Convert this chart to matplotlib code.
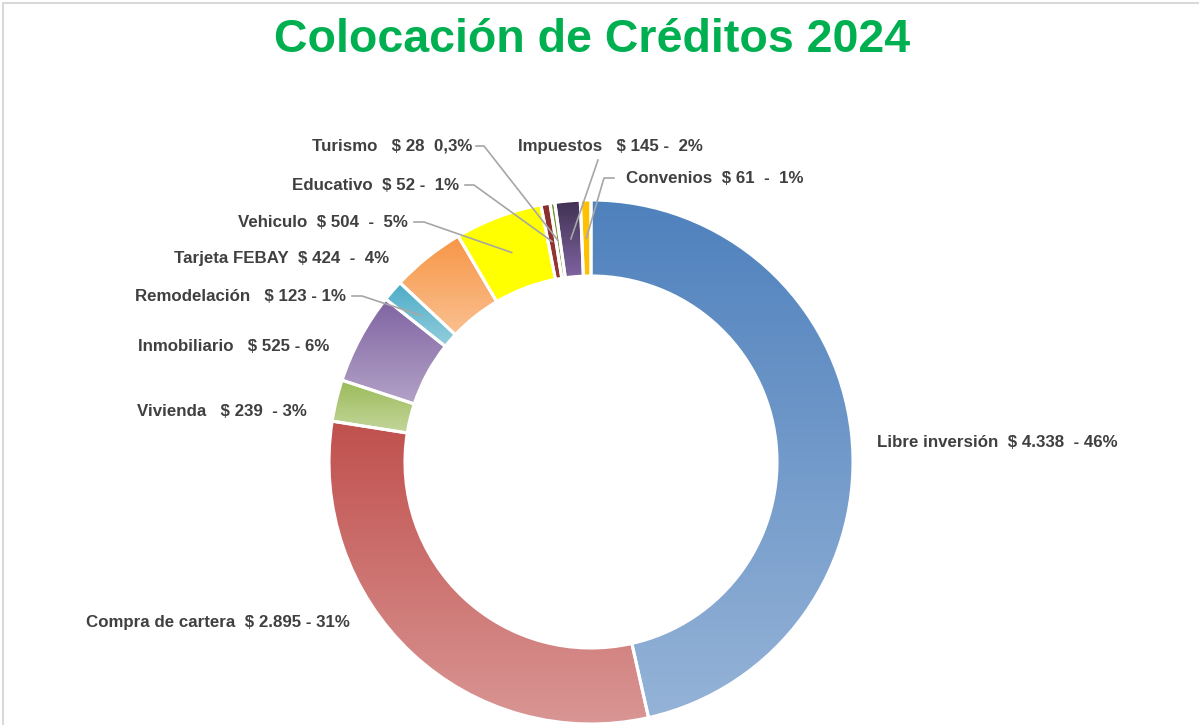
import numpy as np
import matplotlib.pyplot as plt
import matplotlib.colors as mcolors

# datos del gráfico (millones)
categorias = ["Libre inversión", "Compra de cartera", "Vivienda", "Inmobiliario",
              "Remodelación", "Tarjeta FEBAY", "Vehiculo", "Educativo", "Turismo",
              "Impuestos", "Convenios"]
montos = [4338, 2895, 239, 525, 123, 424, 504, 52, 28, 145, 61]
etiquetas = ["Libre inversión  $ 4.338  - 46%",
             "Compra de cartera  $ 2.895 - 31%",
             "Vivienda   $ 239  - 3%",
             "Inmobiliario   $ 525 - 6%",
             "Remodelación   $ 123 - 1%",
             "Tarjeta FEBAY  $ 424  -  4%",
             "Vehiculo  $ 504  -  5%",
             "Educativo  $ 52 -  1%",
             "Turismo   $ 28  0,3%",
             "Impuestos   $ 145 -  2%",
             "Convenios  $ 61  -  1%"]

# degradado: color arriba -> color abajo
color_arriba = ["#4F81BD", "#C0504D", "#9BBB59", "#8064A2", "#4BACC6", "#F79646",
                "#FFFF00", "#8B2F2C", "#77933C", "#403152", "#FFC000"]
color_abajo = ["#95B3D7", "#D99694", "#C3D69B", "#B3A2C7", "#93CDDD", "#FAC090",
               "#FFFF00", "#953735", "#77933C", "#8064A2", "#FFC000"]

# posiciones de las etiquetas en pixeles (x, y, alineación, línea guía)
pos_etiquetas = [
    (877, 442, "left", None),
    (350, 622, "right", None),
    (307, 411, "right", None),
    (329, 346, "right", None),
    (346, 296, "right", [(352, 296), (362, 296)]),
    (389, 258, "right", None),
    (408, 222, "right", [(414, 222), (424, 222)]),
    (459, 185, "right", [(465, 185), (474, 185)]),
    (472, 146, "right", [(476, 146), (484, 146)]),
    (610, 146, "center", [(598, 160)]),
    (626, 178, "left", [(614, 178), (604, 178)]),
]

W, H = 1199, 725
cx, cy, R = 591, H - 462, 262
ancho = 0.29 * R
gris_texto = "#404040"

fig = plt.figure(figsize=(W / 100, H / 100), dpi=100)
ax = fig.add_axes([0, 0, 1, 1])

wedges, _ = ax.pie(montos, radius=R, center=(cx, cy), startangle=90,
                   counterclock=False, colors=color_arriba,
                   wedgeprops=dict(width=ancho, edgecolor="white", linewidth=2.2))

# relleno con degradado vertical recortado a cada porción
for w, c1, c2 in zip(wedges, color_arriba, color_abajo):
    bb = w.get_path().get_extents()
    a = np.array(mcolors.to_rgb(c1))
    b = np.array(mcolors.to_rgb(c2))
    t = np.linspace(0, 1, 256)[:, None]
    img = (a * (1 - t) + b * t)[:, None, :]
    im = ax.imshow(img, extent=(bb.x0, bb.x1, bb.y0, bb.y1), origin="upper",
                   aspect="auto", interpolation="bilinear", zorder=1)
    im.set_clip_path(w)
    w.set_facecolor("none")
    w.set_zorder(2)

# etiquetas y líneas guía
total = sum(montos)
acum = np.cumsum([0] + montos)
for i, (x, y, ha, guia) in enumerate(pos_etiquetas):
    ax.text(x, H - y, etiquetas[i], ha=ha, va="center", fontsize=12.2,
            fontweight="bold", color=gris_texto, family=["Liberation Sans", "DejaVu Sans"])
    if guia:
        frac = (acum[i] + montos[i] / 2) / total
        ang = np.deg2rad(90 - 360 * frac)
        rp = 0.855 * R
        px, py = cx + rp * np.cos(ang), cy + rp * np.sin(ang)
        xs = [p[0] for p in guia] + [px]
        ys = [H - p[1] for p in guia] + [py]
        ax.plot(xs, ys, color="#A6A6A6", lw=1.2, zorder=3)

ax.text(592, H - 40, "Colocación de Créditos 2024", ha="center", va="center",
        fontsize=33.5, fontweight="bold", color="#00B050",
        family=["Liberation Sans", "DejaVu Sans"])

# marco gris del gráfico
ax.plot([3, 3, W], [0, H - 3, H - 3], color="#D9D9D9", lw=1.5, zorder=0)

ax.set_xlim(0, W)
ax.set_ylim(0, H)
ax.set_aspect("auto")
ax.axis("off")

fig.savefig("out.png", dpi=100)
